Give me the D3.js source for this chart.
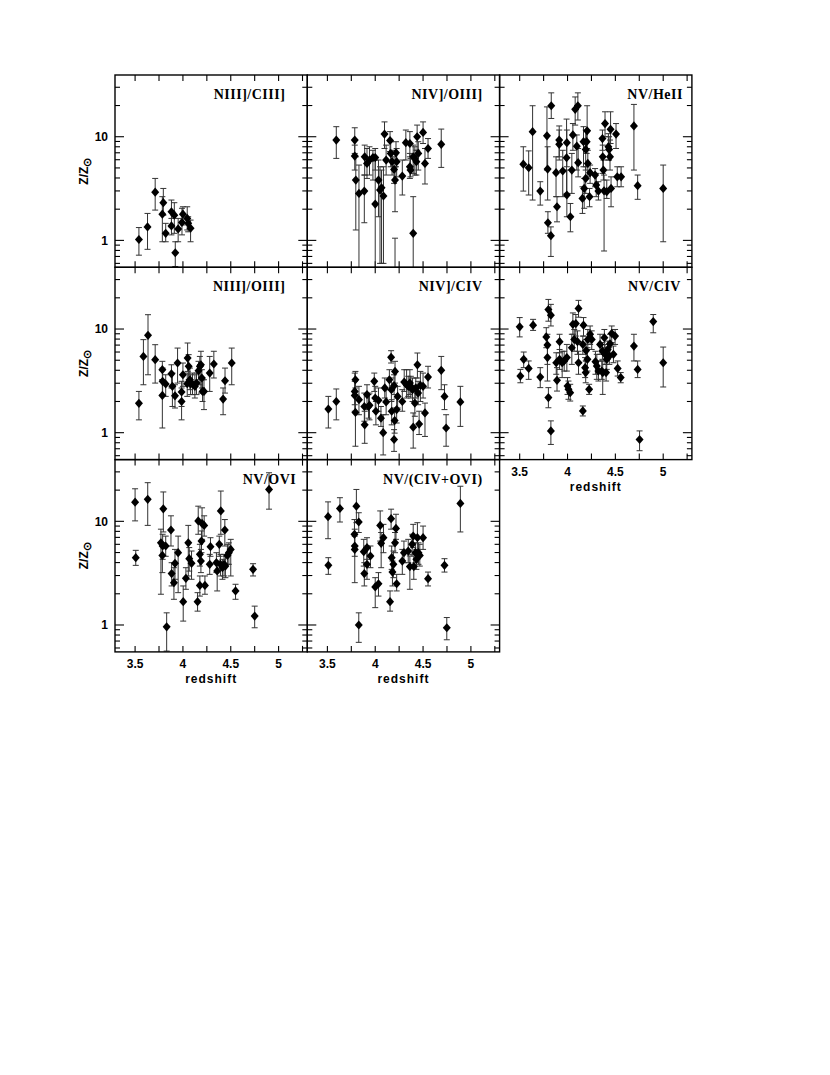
<!DOCTYPE html>
<html lang="en">
<head>
<meta charset="utf-8">
<title>Z/Zsun vs redshift</title>
<script src="https://d3js.org/d3.v7.min.js"></script>
<style>
  body { margin: 0; background: #fff; }
  .frame { fill: none; stroke: #000; stroke-width: 1.4px; }
  .tick { stroke: #000; stroke-width: 1.1px; }
  .err { stroke: #333; stroke-width: 1px; fill: none; }
  .title { font-family: "Liberation Serif", serif; font-weight: bold; font-size: 14px; letter-spacing: 0.5px; }
  .lbl { font-family: "Liberation Sans", sans-serif; font-weight: bold; font-size: 12px; }
  .axtitle { font-family: "Liberation Sans", sans-serif; font-weight: bold; font-size: 12px; letter-spacing: 1px; }
</style>
</head>
<body>
<div id="chart"></div>
<script>
// each row: [redshift, Z/Zsun, lower error end, upper error end]
var nIII_CIII = [
  [3.54,1.02,0.72,1.33],[3.63,1.35,0.82,1.82],[3.71,2.92,1.96,3.96],[3.795,2.31,1.75,3.17],
  [3.785,1.79,0.97,2.64],[3.82,1.17,0.97,1.46],[3.88,1.89,1.35,2.45],[3.88,1.38,1.13,1.63],
  [3.91,1.75,1.17,2.31],[3.92,0.76,0.56,0.97],[3.95,1.29,0.97,1.63],[3.99,1.49,1.13,2.04],
  [4.0,1.79,1.41,2.11],[4.045,1.63,1.26,2.11],[4.055,1.46,1.21,1.69],[4.08,1.31,0.97,1.57]
];
var nIV_OIII = [
  [3.593,9.29,6.18,12.5],[3.786,9.29,6.9,12.2],[3.786,6.5,4.77,8.3],[3.797,3.82,1.26,6.4],
  [3.83,2.84,0.5,5.33],[3.886,2.99,1.48,4.27],[3.89,6.4,4.27,8.3],[3.914,5.53,3.96,7.7],
  [3.94,5.96,4.27,8.0],[3.976,6.3,3.82,7.4],[4.0,6.3,4.77,7.7],[4.0,2.24,0.5,5.96],
  [4.034,3.82,1.69,5.96],[4.05,3.06,0.6,5.13],[4.066,3.22,0.6,4.77],[4.086,2.68,0.6,5.13],
  [4.097,10.6,7.7,13.9],[4.114,5.96,4.27,8.3],[4.155,9.2,7.2,11.2],[4.162,6.9,5.13,8.95],
  [4.176,5.74,4.27,7.4],[4.197,4.84,3.55,6.4],[4.207,3.82,1.89,5.13],[4.217,7.0,5.13,8.95],
  [4.224,5.74,4.1,7.7],[4.207,0.45,0.3,1.05],[4.283,4.17,2.74,5.96],[4.32,8.77,5.96,11.6],
  [4.362,8.6,6.4,11.2],[4.362,5.13,3.96,6.9],[4.369,4.77,4.1,6.18],[4.397,1.17,0.5,2.64],
  [4.397,6.4,4.43,8.3],[4.414,6.18,4.27,8.0],[4.43,5.74,4.27,7.4],[4.438,10.0,7.4,12.95],
  [4.45,6.9,4.77,8.95],[4.5,11.0,8.6,13.9],[4.52,5.53,3.5,7.7],[4.552,7.7,6.18,9.6],
  [4.69,8.45,5.06,11.85]
];
var nV_HeII = [
  [3.538,5.44,2.99,8.0],[3.594,5.02,2.74,7.3],[3.635,11.2,2.45,19.9],[3.715,2.99,2.19,3.68],
  [3.785,10.2,4.77,19.4],[3.792,4.88,2.45,8.0],[3.795,1.48,1.17,1.89],[3.826,1.11,0.7,1.35],
  [3.83,19.9,15.0,26.5],[3.88,4.5,2.64,6.4],[3.89,2.11,1.51,2.64],[3.913,9.29,6.4,12.7],
  [3.913,8.45,5.96,11.6],[3.95,4.67,2.64,7.4],[3.99,6.27,2.84,14.8],[3.993,8.77,5.13,11.6],
  [3.993,2.74,1.69,4.77],[4.03,1.69,1.21,2.27],[4.045,4.77,2.84,6.9],[4.056,10.4,7.4,13.4],
  [4.08,18.4,12.95,24.2],[4.108,19.9,14.5,26.5],[4.097,8.1,4.77,10.4],[4.111,5.62,4.1,7.7],
  [4.156,2.54,1.82,3.29],[4.167,8.95,5.13,12.5],[4.174,3.17,2.04,3.96],[4.19,7.55,4.77,11.6],
  [4.2,8.95,6.9,11.2],[4.205,11.4,7.7,19.9],[4.212,5.53,4.1,7.4],[4.23,2.64,2.11,3.17],
  [4.236,4.5,3.55,5.33],[4.19,3.96,2.84,5.13],[4.288,4.27,3.29,4.93],[4.3,3.42,2.64,4.43],
  [4.323,2.99,2.45,3.68],[4.365,9.6,7.4,11.6],[4.368,6.4,4.43,8.3],[4.375,4.77,3.82,5.96],
  [4.382,3.01,0.79,4.27],[4.392,13.4,10.0,17.4],[4.41,2.95,2.54,3.82],[4.427,8.0,5.96,10.7],
  [4.434,7.55,5.96,10.0],[4.444,6.4,4.77,9.29],[4.45,11.8,8.6,17.4],[4.455,3.17,2.11,4.1],
  [4.507,10.6,7.7,13.4],[4.52,4.1,3.29,5.13],[4.56,4.1,3.29,5.13],[4.694,12.7,4.77,20.5],
  [4.733,3.37,2.49,4.27],[5.0,3.17,0.97,5.33]
];
var nIII_OIII = [
  [3.54,1.92,1.33,2.5],[3.587,5.44,2.9,7.9],[3.635,8.7,3.62,13.75],[3.71,5.06,3.01,7.06],
  [3.785,4.05,3.24,4.88],[3.788,3.13,2.33,4.2],[3.785,2.29,1.11,3.24],[3.82,2.95,2.24,3.62],
  [3.88,3.7,2.7,4.52],[3.89,2.8,1.79,3.76],[3.917,2.27,1.73,2.9],[3.944,4.7,3.01,6.55],
  [3.986,2.0,1.33,2.7],[3.986,2.47,1.79,3.13],[4.0,3.62,2.8,4.7],[4.045,2.97,2.24,3.76],
  [4.049,5.25,3.9,7.33],[4.06,4.37,3.24,5.66],[4.073,3.24,2.6,4.2],[4.08,2.95,2.33,3.62],
  [4.1,2.95,2.33,3.76],[4.125,2.8,2.16,3.62],[4.142,3.01,2.33,3.76],[4.163,3.96,3.24,4.88],
  [4.177,4.37,2.9,5.44],[4.188,4.52,2.41,6.1],[4.198,3.37,2.7,4.05],[4.205,2.5,2.0,3.24],
  [4.22,2.5,1.67,3.24],[4.28,3.76,2.5,5.44],[4.323,4.6,3.37,6.1],[4.42,2.11,1.49,2.7],
  [4.44,3.17,2.41,4.2],[4.51,4.7,2.9,6.55]
];
var nIV_CIV = [
  [3.51,1.69,1.11,2.24],[3.593,2.0,1.33,2.64],[3.793,3.24,2.7,3.9],[3.786,2.5,1.86,3.76],
  [3.786,2.29,1.61,3.13],[3.793,1.57,0.74,2.33],[3.83,2.08,1.49,2.8],[3.886,1.79,1.29,2.41],
  [3.89,1.19,0.79,1.61],[3.914,2.33,1.67,2.9],[3.93,1.79,1.38,2.33],[3.94,1.84,1.33,2.41],
  [3.99,3.13,2.5,3.76],[4.0,2.16,1.61,2.8],[4.007,1.61,1.19,2.0],[4.034,2.05,1.61,2.7],
  [4.06,1.38,1.15,1.79],[4.083,1.0,0.61,1.49],[4.1,2.7,2.16,3.37],[4.114,1.98,1.49,2.6],
  [4.148,3.24,2.6,4.05],[4.166,5.33,4.7,6.18],[4.169,2.6,2.0,3.37],[4.172,1.61,1.19,2.08],
  [4.197,2.84,2.33,3.62],[4.207,3.9,3.01,4.88],[4.203,1.31,0.99,1.73],[4.197,0.86,0.66,1.07],
  [4.224,1.67,1.24,2.16],[4.234,2.24,1.73,2.8],[4.283,2.0,1.61,2.6],[4.303,3.08,2.5,4.05],
  [4.328,2.9,2.16,4.05],[4.345,2.8,2.24,3.5],[4.362,3.01,2.33,4.05],[4.372,2.8,2.16,3.5],
  [4.39,2.6,2.0,3.37],[4.397,1.13,0.71,1.55],[4.414,1.93,1.44,2.5],[4.424,2.7,2.16,3.37],
  [4.441,4.52,3.37,5.87],[4.448,2.41,1.86,3.13],[4.459,1.21,0.96,1.61],[4.472,2.86,2.0,3.9],
  [4.5,2.8,2.16,3.76],[4.52,1.55,0.92,1.93],[4.552,3.44,2.7,4.37],[4.69,4.0,2.6,5.44],
  [4.724,2.24,1.67,2.9],[4.741,1.11,0.74,1.49],[4.89,1.98,1.15,2.8]
];
var nV_CIV = [
  [3.5,10.5,8.4,12.9],[3.507,3.52,3.03,4.08],[3.542,5.1,4.24,6.0],[3.594,4.17,3.27,4.92],
  [3.64,10.9,9.7,12.4],[3.715,3.44,2.72,4.24],[3.778,8.4,6.6,10.3],[3.79,7.0,4.56,8.9],
  [3.79,5.3,3.15,7.1],[3.8,2.18,1.74,2.72],[3.8,15.4,11.9,19.3],[3.826,13.6,10.7,17.3],
  [3.826,1.04,0.77,1.3],[3.882,4.73,3.66,5.9],[3.89,3.2,2.52,4.24],[3.917,7.55,5.9,8.9],
  [3.917,5.1,4.08,6.35],[3.944,4.73,3.4,6.1],[3.965,4.92,3.93,6.1],[3.993,5.3,3.93,7.1],
  [4.0,2.82,2.34,3.4],[4.01,2.62,2.1,3.15],[4.028,2.43,2.02,2.93],[4.045,6.6,4.56,8.9],
  [4.056,11.1,8.9,14.3],[4.07,7.94,6.1,9.9],[4.087,11.3,8.55,13.8],[4.104,7.55,5.7,9.6],
  [4.115,4.73,3.66,6.1],[4.115,15.8,13.0,18.9],[4.16,1.62,1.45,1.81],[4.16,7.1,5.7,8.55],
  [4.167,10.9,8.55,12.9],[4.184,4.24,3.4,5.3],[4.19,3.8,3.03,4.92],[4.194,6.2,4.92,7.94],
  [4.208,5.1,3.93,6.6],[4.212,7.94,6.35,9.9],[4.226,2.62,2.34,2.93],[4.236,8.9,7.1,10.7],
  [4.253,7.94,6.35,9.6],[4.292,4.84,3.66,6.1],[4.306,4.39,3.27,5.7],[4.323,3.93,3.15,4.92],
  [4.34,7.1,5.7,8.9],[4.358,3.93,3.27,4.92],[4.365,6.13,5.1,7.4],[4.368,3.8,2.34,4.92],
  [4.385,8.25,6.6,9.9],[4.392,5.7,4.56,7.1],[4.403,3.8,3.15,4.56],[4.41,5.1,4.08,6.35],
  [4.42,6.36,5.3,7.65],[4.437,5.48,4.56,6.6],[4.444,7.2,5.7,8.9],[4.462,9.06,7.4,10.7],
  [4.48,5.7,4.73,6.85],[4.497,8.55,7.1,9.9],[4.524,4.17,3.52,4.92],[4.556,3.4,3.03,3.8],
  [4.694,6.85,4.92,8.9],[4.733,4.08,3.4,4.92],[4.753,0.86,0.67,1.04],[4.896,11.8,9.2,13.8],
  [5.0,4.73,2.76,6.7]
];
var nV_OVI = [
  [3.5,15.3,10.1,20.6],[3.507,4.46,3.76,5.25],[3.632,16.3,9.14,23.6],[3.77,6.2,1.98,8.4],
  [3.795,13.2,7.9,19.2],[3.788,5.78,4.3,7.5],[3.785,4.69,3.2,6.2],[3.82,5.78,4.6,7.2],
  [3.83,0.96,0.56,1.31],[3.875,8.25,5.78,11.3],[3.882,3.13,2.38,3.99],[3.906,2.56,1.77,3.57],
  [3.917,3.93,2.76,5.36],[3.95,4.98,2.05,7.2],[4.003,1.68,1.09,2.38],[4.031,2.82,2.21,3.57],
  [4.056,6.2,2.97,9.14],[4.066,4.36,3.31,5.58],[4.09,3.93,2.76,5.17],[4.153,1.68,1.36,2.05],
  [4.16,10.1,7.5,14.0],[4.177,4.8,3.7,6.0],[4.177,2.41,1.9,2.97],[4.188,4.14,3.2,5.36],
  [4.194,6.45,4.98,8.07],[4.2,9.55,6.7,13.5],[4.222,9.14,7.2,11.3],[4.23,2.41,1.98,2.97],
  [4.288,5.7,4.6,6.95],[4.28,3.85,3.08,4.8],[4.35,3.99,3.2,4.98],[4.358,3.32,2.13,4.14],
  [4.38,6.0,4.6,7.2],[4.396,12.6,7.5,19.6],[4.392,3.85,2.97,4.8],[4.413,3.57,2.76,4.3],
  [4.43,3.85,2.97,4.8],[4.444,3.7,2.86,4.6],[4.438,8.25,5.78,10.4],[4.465,4.69,3.85,6.0],
  [4.48,4.98,3.85,6.2],[4.5,5.36,2.97,6.7],[4.55,2.13,1.77,2.47],[4.733,3.44,2.97,3.9],
  [4.75,1.22,0.94,1.52],[4.9,20.3,13.1,29.4]
];
var nV_CIV_OVI = [
  [3.507,11.1,6.8,15.4],[3.51,3.76,3.08,4.46],[3.631,13.3,9.85,16.9],[3.783,7.5,5.36,10.4],
  [3.786,5.78,4.6,8.4],[3.786,5.36,2.56,7.2],[3.803,14.0,9.7,20.3],[3.828,9.85,7.8,12.1],
  [3.828,1.0,0.68,1.31],[3.88,5.1,3.7,6.7],[3.886,3.13,2.38,3.99],[3.914,5.57,4.3,6.95],
  [3.914,3.85,2.76,5.78],[3.95,4.63,3.57,5.78],[4.0,2.33,1.47,2.86],[4.034,2.5,1.9,3.2],
  [4.052,9.14,6.45,12.6],[4.062,6.13,3.57,7.8],[4.086,6.95,4.98,9.35],[4.155,1.68,1.36,2.13],
  [4.166,10.6,8.4,13.1],[4.172,4.46,3.44,5.78],[4.18,3.24,2.38,4.14],[4.19,3.85,2.86,5.17],
  [4.207,6.2,4.98,7.8],[4.217,8.55,6.7,11.7],[4.224,2.5,2.13,3.08],[4.283,4.14,3.08,5.36],
  [4.3,4.98,3.99,6.45],[4.345,5.17,3.99,6.7],[4.362,3.66,2.21,4.63],[4.386,6.0,4.8,7.5],
  [4.397,7.2,5.58,9.35],[4.403,3.66,2.76,4.63],[4.42,4.98,3.99,6.2],[4.43,4.3,3.44,5.36],
  [4.441,6.95,4.98,9.7],[4.452,4.98,3.85,6.2],[4.466,4.69,3.7,6.0],[4.5,6.95,5.36,9.0],
  [4.552,2.8,2.38,3.24],[4.724,3.76,3.24,4.36],[4.748,0.94,0.72,1.18],[4.89,14.9,7.9,21.8]
];

var titles = ["NIII]/CIII]", "NIV]/OIII]", "NV/HeII", "NIII]/OIII]", "NIV]/CIV",
              "NV/CIV", "NV/OVI", "NV/(CIV+OVI)"];
var series = [nIII_CIII, nIV_OIII, nV_HeII, nIII_OIII, nIV_CIV, nV_CIV, nV_OVI, nV_CIV_OVI];
var xTicks = [3.5, 3.75, 4, 4.25, 4.5, 4.75, 5, 5.25];
var xTickLabels = [3.5, 4, 4.5, 5];
var yTickLabels = [1, 10];

var width = 830, height = 1075;
var left = 115, top0 = 75, size = 192.3;
var titleInset = [22, 17, 9, 22, 17, 11, 11, 17];
var xLabelPanels = [5, 6, 7];

var svg = d3.select("#chart").append("svg")
    .attr("width", width)
    .attr("height", height)
    .style("background", "#fff");

var x = d3.scaleLinear().domain([3.29, 5.3]).range([0, size]);
var y = d3.scaleLog().domain([0.55, 39.4]).range([size, 0]);
var diamond = "M0,-4.6L4,0L0,4.6L-4,0Z";

series.forEach(function(data, i) {
  var row = Math.floor(i / 3), col = i % 3;
  var g = svg.append("g")
      .attr("transform", "translate(" + (left + col * size) + "," + (top0 + row * size) + ")");

  g.append("clipPath").attr("id", "clip" + i)
    .append("rect").attr("width", size).attr("height", size);

  // ticks on all four sides, pointing in
  xTicks.forEach(function(t) {
    g.append("line").attr("class", "tick")
      .attr("x1", x(t)).attr("x2", x(t)).attr("y1", size).attr("y2", size - 6);
    g.append("line").attr("class", "tick")
      .attr("x1", x(t)).attr("x2", x(t)).attr("y1", 0).attr("y2", 6);
  });
  y.ticks().forEach(function(t) {
    var major = Math.abs(Math.log10(t) - Math.round(Math.log10(t))) < 1e-6;
    var len = major ? 9 : 5;
    g.append("line").attr("class", "tick")
      .attr("x1", 0).attr("x2", len).attr("y1", y(t)).attr("y2", y(t));
    g.append("line").attr("class", "tick")
      .attr("x1", size).attr("x2", size - len).attr("y1", y(t)).attr("y2", y(t));
  });

  var pts = g.append("g").attr("clip-path", "url(#clip" + i + ")");

  var bars = pts.selectAll("g.bar").data(data).enter().append("g").attr("class", "bar");
  bars.append("line").attr("class", "err")
    .attr("x1", function(d) { return x(d[0]); })
    .attr("x2", function(d) { return x(d[0]); })
    .attr("y1", function(d) { return y(d[2]); })
    .attr("y2", function(d) { return y(d[3]); });
  [2, 3].forEach(function(k) {
    bars.append("line").attr("class", "err")
      .attr("x1", function(d) { return x(d[0]) - 3; })
      .attr("x2", function(d) { return x(d[0]) + 3; })
      .attr("y1", function(d) { return y(d[k]); })
      .attr("y2", function(d) { return y(d[k]); });
  });

  pts.selectAll("path.pt").data(data).enter().append("path")
    .attr("class", "pt")
    .attr("d", diamond)
    .attr("fill", "#000")
    .attr("transform", function(d) { return "translate(" + x(d[0]) + "," + y(d[1]) + ")"; });

  g.append("rect").attr("class", "frame").attr("width", size).attr("height", size);

  g.append("text").attr("class", "title")
    .attr("x", size - titleInset[i]).attr("y", 24)
    .attr("text-anchor", "end")
    .text(titles[i]);

  if (col === 0) {
    yTickLabels.forEach(function(t) {
      g.append("text").attr("class", "lbl")
        .attr("x", -7).attr("y", y(t)).attr("dy", "0.36em")
        .attr("text-anchor", "end")
        .text(t);
    });
    var yt = g.append("text").attr("class", "axtitle")
      .attr("transform", "translate(-27," + (size / 2) + ") rotate(-90)")
      .attr("text-anchor", "middle")
      .style("letter-spacing", "0px");
    yt.append("tspan").text("Z/Z");
    yt.append("tspan").attr("dy", 3).style("font-size", "11px").text("\u2299");
  }

  if (xLabelPanels.indexOf(i) >= 0) {
    xTickLabels.forEach(function(t) {
      g.append("text").attr("class", "lbl")
        .attr("x", x(t)).attr("y", size + 16)
        .attr("text-anchor", "middle")
        .text(t);
    });
    g.append("text").attr("class", "axtitle")
      .attr("x", size / 2).attr("y", size + 31.5)
      .attr("text-anchor", "middle")
      .text("redshift");
  }
});
</script>
</body>
</html>
